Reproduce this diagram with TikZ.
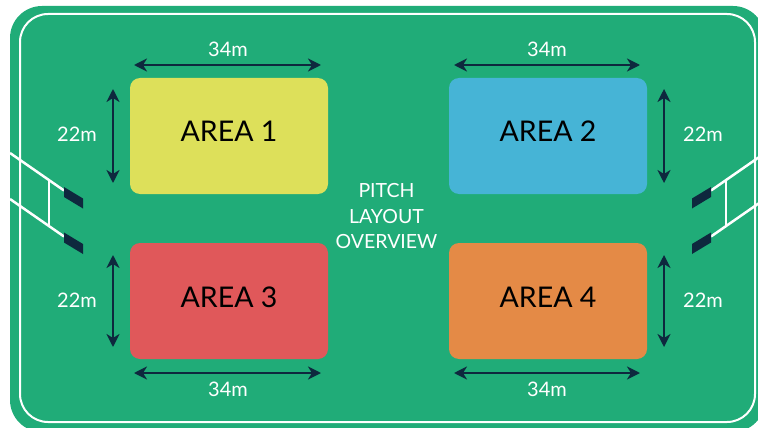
\documentclass[tikz,border=0pt]{standalone}
\usepackage{fontspec}
\setmainfont{Lato}
\usetikzlibrary{arrows.meta}
\definecolor{pitchgreen}{RGB}{32,172,120}
\definecolor{navy}{RGB}{14,40,62}
\definecolor{areayellow}{RGB}{221,224,90}
\definecolor{areablue}{RGB}{70,180,214}
\definecolor{areared}{RGB}{224,88,90}
\definecolor{areaorange}{RGB}{228,138,70}
\begin{document}
\begin{tikzpicture}[x=1pt,y=-1pt,
  areabox/.style={rounded corners=10pt, minimum width=198pt, minimum height=116pt, inner sep=0pt, draw=none},
  areatext/.style={inner sep=0pt, text=black, font=\fontsize{28.5}{30}\selectfont},
  dimline/.style={draw=navy, line width=2pt, {Stealth[length=13pt,width=13pt,inset=4pt]}-{Stealth[length=13pt,width=13pt,inset=4pt]}},
  dimlabel/.style={inner sep=0pt, text=white, font=\fontsize{20}{21}\selectfont},
  goalline/.style={draw=white, line width=2.5pt},
  goalpost/.style={fill=navy, draw=none},
  titletext/.style={inner sep=0pt, text=white, align=center, font=\fontsize{19.5}{25.5}\selectfont}
]
\useasboundingbox (0,0) rectangle (758,428);
% pitch
\fill[pitchgreen, rounded corners=32pt] (10,6) rectangle (765,432);
\draw[white, line width=2pt, rounded corners=28pt] (20,14) rectangle (755,422);

% goals (left, then mirrored right)
\foreach \s/\o in {1/0, -1/775}{
  \begin{scope}[xshift=\o pt, xscale=\s]
    \draw[goalline] (10,153) -- (64,190.5);
    \draw[goalline] (10,199) -- (64,236.5);
    \draw[goalline] (49,181) -- (49,226.5);
    \fill[goalpost] (64,187) -- (83,198.5) -- (83,208.5) -- (64,197) -- cycle;
    \fill[goalpost] (64,232.5) -- (83,244) -- (83,254) -- (64,242.5) -- cycle;
  \end{scope}
}

% areas
\node[areabox, fill=areayellow] (a1) at (229,136) {};
\node[areabox, fill=areablue]   (a2) at (548,136) {};
\node[areabox, fill=areared]    (a3) at (229,301) {};
\node[areabox, fill=areaorange] (a4) at (548,301) {};
\node[areatext] (t1) at (229,131.5) {AREA 1};
\node[areatext] (t2) at (548,131.5) {AREA 2};
\node[areatext] (t3) at (229,297) {AREA 3};
\node[areatext] (t4) at (548,297) {AREA 4};

% title
\node[titletext] (title) at (386.5,216.5) {PITCH\\LAYOUT\\OVERVIEW};

% dimension end points
\coordinate (h1a) at (134,65);  \coordinate (h1b) at (321,65);
\coordinate (h2a) at (454,65);  \coordinate (h2b) at (640,65);
\coordinate (h3a) at (134,373); \coordinate (h3b) at (321,373);
\coordinate (h4a) at (454,373); \coordinate (h4b) at (640,373);
\coordinate (v1a) at (113,89);  \coordinate (v1b) at (113,183);
\coordinate (v2a) at (664,89);  \coordinate (v2b) at (664,183);
\coordinate (v3a) at (113,255); \coordinate (v3b) at (113,347);
\coordinate (v4a) at (664,255); \coordinate (v4b) at (664,347);
\foreach \n in {1,2,3,4}{
  \draw[dimline] (h\n a) -- (h\n b);
  \draw[dimline] (v\n a) -- (v\n b);
}

% dimension labels
\node[dimlabel] (l1h) at (228,49.5) {34m};
\node[dimlabel] (l2h) at (547,49.5) {34m};
\node[dimlabel] (l3h) at (228,389) {34m};
\node[dimlabel] (l4h) at (547,389) {34m};
\node[dimlabel] (l1v) at (77,134) {22m};
\node[dimlabel] (l2v) at (703,134) {22m};
\node[dimlabel] (l3v) at (77,300.5) {22m};
\node[dimlabel] (l4v) at (703,300.5) {22m};
\end{tikzpicture}
\end{document}
